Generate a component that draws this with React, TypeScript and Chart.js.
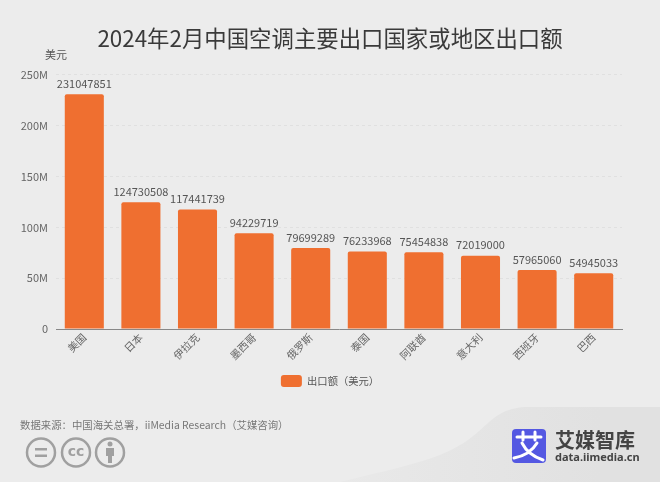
import * as React from 'react';
import Chart from 'chart.js/auto';

const countries = ['美国', '日本', '伊拉克', '墨西哥', '俄罗斯', '泰国', '阿联酋', '意大利', '西班牙', '巴西'];
const exportValues = [231047851, 124730508, 117441739, 94229719, 79699289, 76233968, 75454838, 72019000, 57965060, 54945033];
const seriesName = '出口额（美元）';
const chartTitle = '2024年2月中国空调主要出口国家或地区出口额';
const sourceText = '数据来源：中国海关总署，iiMedia Research（艾媒咨询）';

const cjk = '"Noto Sans CJK SC", "Noto Sans", sans-serif';

// background, wave and logo sit behind the chart
const backdrop = {
  id: 'backdrop',
  beforeDraw(chart: any) {
    const c = chart.ctx;
    c.save();
    c.fillStyle = '#ececec';
    c.fillRect(0, 0, 660, 482);
    const wave = c.createLinearGradient(340, 0, 600, 0);
    wave.addColorStop(0, '#e9e9e9');
    wave.addColorStop(1, '#e1e1e1');
    c.fillStyle = wave;
    c.beginPath();
    c.moveTo(660, 407);
    c.lineTo(525, 407);
    c.bezierCurveTo(485, 410, 490, 435, 440, 455);
    c.bezierCurveTo(410, 466, 380, 472, 340, 482);
    c.lineTo(660, 482);
    c.closePath();
    c.fill();
    c.restore();
  },
  afterDraw(chart: any) {
    const c = chart.ctx;
    c.save();

    // unit above the y axis
    c.font = '11px ' + cjk;
    c.fillStyle = '#555';
    c.textAlign = 'left';
    c.textBaseline = 'middle';
    c.fillText('美元', 45, 55);

    // source line
    c.font = '10.4px ' + cjk;
    c.fillStyle = '#777';
    c.fillText(sourceText, 20, 425);

    // cc icons
    c.strokeStyle = '#a0a0a0';
    c.lineWidth = 2.5;
    [41, 76, 110].forEach((x) => {
      c.beginPath();
      c.arc(x, 452.5, 14, 0, Math.PI * 2);
      c.stroke();
    });
    c.fillStyle = '#a0a0a0';
    c.fillRect(35, 448, 12, 2.5);
    c.fillRect(35, 454.5, 12, 2.5);
    c.font = 'bold 14px "DejaVu Sans", sans-serif';
    c.textAlign = 'center';
    c.fillText('cc', 76, 452);
    c.beginPath();
    c.arc(110, 444, 2.5, 0, Math.PI * 2);
    c.fill();
    c.fillRect(106, 448, 8, 8);
    c.fillRect(108, 456, 4, 7);

    // logo
    c.fillStyle = '#5458e2';
    c.beginPath();
    c.roundRect(512, 429, 34, 34, 4);
    c.fill();
    c.strokeStyle = '#fff';
    c.lineWidth = 3;
    c.lineCap = 'round';
    c.beginPath();
    c.moveTo(517, 437);
    c.lineTo(541, 437);
    c.moveTo(523, 432);
    c.lineTo(523, 440);
    c.moveTo(535, 432);
    c.lineTo(535, 440);
    c.moveTo(522, 443);
    c.quadraticCurveTo(528, 455, 543, 460);
    c.moveTo(537, 443);
    c.quadraticCurveTo(530, 455, 514, 458);
    c.stroke();

    c.fillStyle = '#444';
    c.textAlign = 'left';
    c.font = 'bold 20px ' + cjk;
    c.fillText('艾媒智库', 555, 440);
    c.font = 'bold 11px "Noto Sans", sans-serif';
    c.fillText('data.iimedia.cn', 555, 458);
    c.restore();
  },
};

// value above each bar
const barValues = {
  id: 'barValues',
  afterDatasetsDraw(chart: any) {
    const c = chart.ctx;
    const meta = chart.getDatasetMeta(0);
    c.save();
    c.font = '11px ' + cjk;
    c.fillStyle = '#555';
    c.textAlign = 'center';
    c.textBaseline = 'bottom';
    meta.data.forEach((bar: any, i: number) => {
      c.fillText(String(exportValues[i]), bar.x, bar.y - 5);
    });
    c.restore();
  },
};

export default function App() {
  const ref = React.useRef<HTMLCanvasElement>(null);

  React.useEffect(() => {
    document.body.style.margin = '0';
    const chart = new Chart(ref.current!.getContext('2d')!, {
      type: 'bar',
      data: {
        labels: countries,
        datasets: [
          {
            label: seriesName,
            data: exportValues,
            backgroundColor: '#ef6f30',
            borderRadius: { topLeft: 2, topRight: 2 },
            borderSkipped: 'bottom',
            categoryPercentage: 0.69,
            barPercentage: 1,
          },
        ],
      },
      plugins: [backdrop, barValues],
      options: {
        animation: false,
        responsive: false,
        layout: { padding: { bottom: 85, top: 25 } },
        plugins: {
          title: {
            display: true,
            text: chartTitle,
            color: '#3a3a3a',
            font: { family: cjk, size: 22.4, weight: 'normal' },
            padding: { top: 0, bottom: 23 },
          },
          legend: {
            position: 'bottom',
            labels: {
              boxWidth: 21,
              boxHeight: 12,
              padding: 8,
              useBorderRadius: true,
              borderRadius: 3,
              color: '#555',
              font: { family: cjk, size: 10.3 },
            },
          },
          tooltip: { enabled: false },
        },
        scales: {
          x: {
            grid: { display: false },
            border: { color: '#888' },
            ticks: {
              minRotation: 45,
              maxRotation: 45,
              color: '#666',
              font: { family: cjk, size: 10.5 },
              padding: -6,
            },
            afterFit(scale: any) {
              scale.height = 38;
            },
          },
          y: {
            min: 0,
            max: 250000000,
            grid: { color: '#e0e0e0', drawTicks: false },
            border: { display: false, dash: [3, 3] },
            ticks: {
              stepSize: 50000000,
              color: '#666',
              font: { family: cjk, size: 11 },
              padding: 8,
              callback: (v: any) => (v === 0 ? '0' : v / 1000000 + 'M'),
            },
            afterFit(scale: any) {
              scale.width = 56;
            },
          },
          // empty axis that keeps the right margin without moving the title off centre
          spacer: {
            position: 'right',
            grid: { display: false },
            border: { display: false },
            ticks: { display: false },
            afterFit(scale: any) {
              scale.width = 38;
            },
          },
        },
      },
    } as any);
    return () => chart.destroy();
  }, []);

  return <canvas ref={ref} width={660} height={482} style={{ display: 'block' }} />;
}
